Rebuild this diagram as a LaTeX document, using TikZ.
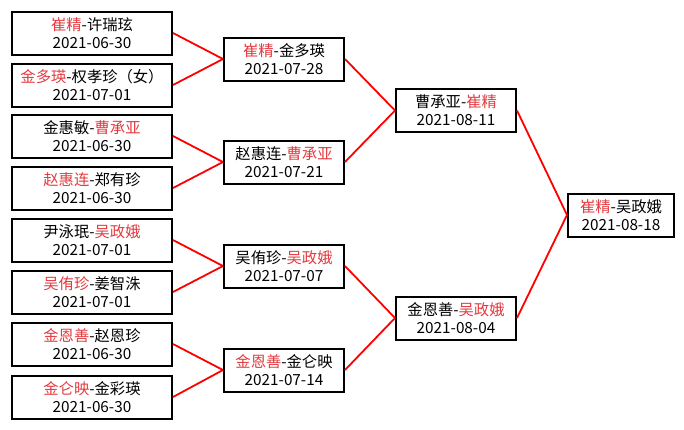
\documentclass[tikz,border=0pt]{standalone}
\usepackage{fontspec}
\setmainfont{Noto Sans CJK SC}
\definecolor{rn}{HTML}{E53A3F}
\newcommand{\rd}[1]{\textcolor{rn}{#1}}
\tikzset{
  match/.style={draw=black, line width=2pt, fill=white, minimum height=43pt,
    inner sep=0pt, align=center, font=\fontsize{15.3}{18}\selectfont},
  r1/.style={match, minimum width=160pt},
  r2/.style={match, minimum width=120pt},
  r4/.style={match, minimum width=106pt},
  link/.style={draw=red, line width=1.8pt}
}
\begin{document}
\begin{tikzpicture}[x=1pt,y=-1pt]
\useasboundingbox[fill=white] (0,0) rectangle (684,429);
% round 1
\node[r1] (a1) at (92,33)  {\rd{崔精}-许瑞玹\\2021-06-30};
\node[r1] (a2) at (92,85)  {\rd{金多瑛}-权孝珍（女）\\2021-07-01};
\node[r1] (a3) at (92,136) {金惠敏-\rd{曹承亚}\\2021-06-30};
\node[r1] (a4) at (92,188) {\rd{赵惠连}-郑有珍\\2021-06-30};
\node[r1] (a5) at (92,240) {尹泳珉-\rd{吴政娥}\\2021-07-01};
\node[r1] (a6) at (92,292) {\rd{吴侑珍}-姜智洙\\2021-07-01};
\node[r1] (a7) at (92,344) {\rd{金恩善}-赵恩珍\\2021-06-30};
\node[r1] (a8) at (92,397) {\rd{金仑映}-金彩瑛\\2021-06-30};
% round 2
\node[r2] (b1) at (284,59)  {\rd{崔精}-金多瑛\\2021-07-28};
\node[r2] (b2) at (284,162) {赵惠连-\rd{曹承亚}\\2021-07-21};
\node[r2] (b3) at (284,266) {吴侑珍-\rd{吴政娥}\\2021-07-07};
\node[r2] (b4) at (284,370) {\rd{金恩善}-金仑映\\2021-07-14};
% round 3
\node[r2] (c1) at (456,110.5) {曹承亚-\rd{崔精}\\2021-08-11};
\node[r2] (c2) at (456,318)   {金恩善-\rd{吴政娥}\\2021-08-04};
% final
\node[r4] (d1) at (621,215) {\rd{崔精}-吴政娥\\2021-08-18};
% links
\draw[link] (a1.east) -- (b1.west);
\draw[link] (a2.east) -- (b1.west);
\draw[link] (a3.east) -- (b2.west);
\draw[link] (a4.east) -- (b2.west);
\draw[link] (a5.east) -- (b3.west);
\draw[link] (a6.east) -- (b3.west);
\draw[link] (a7.east) -- (b4.west);
\draw[link] (a8.east) -- (b4.west);
\draw[link] (b1.east) -- (c1.west);
\draw[link] (b2.east) -- (c1.west);
\draw[link] (b3.east) -- (c2.west);
\draw[link] (b4.east) -- (c2.west);
\draw[link] (c1.east) -- (d1.west);
\draw[link] (c2.east) -- (d1.west);
\end{tikzpicture}
\end{document}
